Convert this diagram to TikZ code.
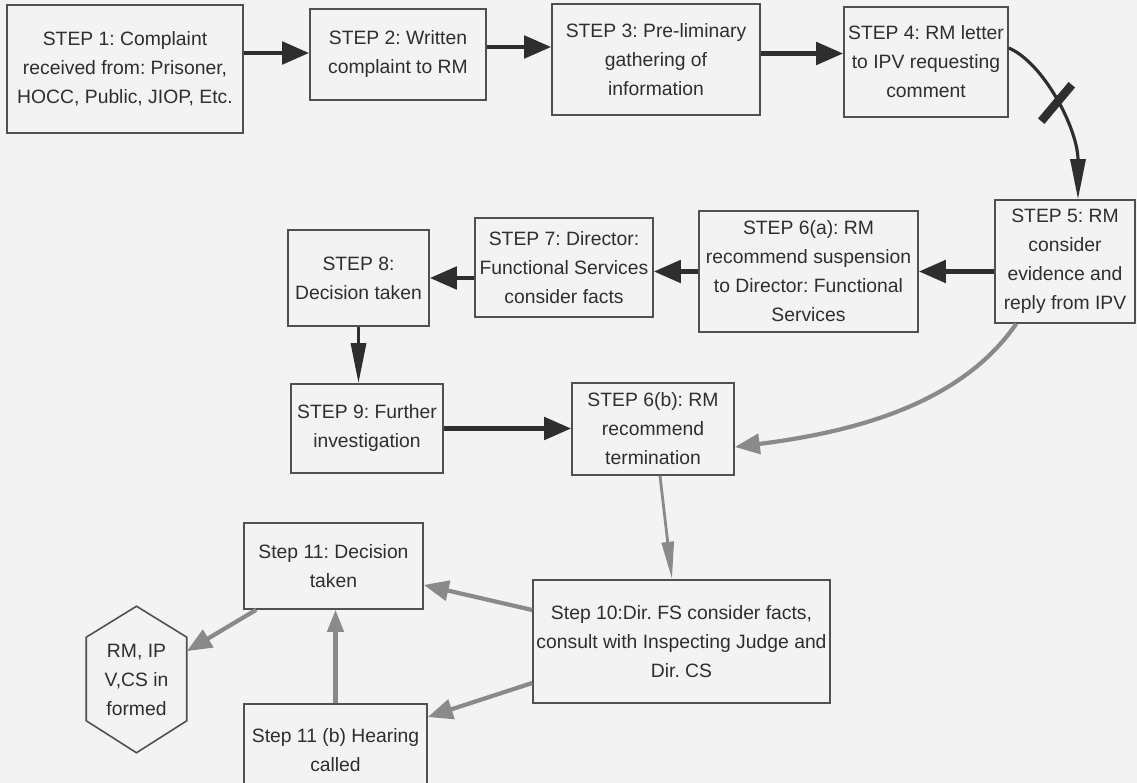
\documentclass[tikz,border=0pt]{standalone}
\usepackage{fontspec}
\setmainfont{Liberation Sans}
\usetikzlibrary{arrows.meta}
\definecolor{inkdark}{HTML}{2E2E2E}
\definecolor{inkgray}{HTML}{8A8A8A}
\definecolor{boxgray}{HTML}{505050}
\definecolor{paper}{HTML}{F3F3F3}
\frenchspacing

\begin{document}
\begin{tikzpicture}[x=0.02cm, y=-0.02cm,
    stepbox/.style={draw=boxgray, line width=0.9pt, text=inkdark, align=center,
      inner sep=0pt, font=\fontsize{11}{16.5}\selectfont},
    darrow/.style={draw=inkdark, line width=2.8pt, -{Triangle[length=5.4mm,width=4.4mm]}},
    tarrow/.style={draw=inkdark, line width=1.8pt, -{Triangle[length=8mm,width=3mm]}},
    garrow/.style={draw=inkgray, line width=2.4pt, -{Triangle[length=5mm,width=4mm]}},
    gtarrow/.style={draw=inkgray, line width=1.6pt, -{Triangle[length=7.5mm,width=2.4mm]}},
    crossbar/.style={fill=inkdark, inner sep=0pt, minimum width=0.95cm, minimum height=0.17cm, rotate=50}]
    \useasboundingbox (0,0) rectangle (1137,783);
    \clip (0,0) rectangle (1137,783);
    \fill[paper] (0,0) rectangle (1137,783);

    \node[stepbox, minimum width=4.72cm, minimum height=2.56cm] (s1) at (125,69)
      {STEP 1: Complaint\\received from: Prisoner,\\HOCC, Public, JIOP, Etc.};
    \node[stepbox, minimum width=3.52cm, minimum height=1.82cm] (s2) at (398,54.5)
      {STEP 2: Written\\complaint to RM};
    \node[stepbox, minimum width=4.16cm, minimum height=2.22cm] (s3) at (656,59.5)
      {STEP 3: Pre-liminary\\gathering of\\information};
    \node[stepbox, minimum width=3.28cm, minimum height=2.2cm] (s4) at (926,62)
      {STEP 4: RM letter\\to IPV requesting\\comment};
    \node[stepbox, minimum width=2.8cm, minimum height=2.46cm] (s5) at (1065,261.5)
      {STEP 5: RM\\consider\\evidence and\\reply from IPV};
    \node[stepbox, minimum width=4.38cm, minimum height=2.42cm] (s6a) at (808.5,271.5)
      {STEP 6(a): RM\\recommend suspension\\to Director: Functional\\Services};
    \node[stepbox, minimum width=3.56cm, minimum height=1.98cm] (s7) at (564,267.5)
      {STEP 7: Director:\\Functional Services\\consider facts};
    \node[stepbox, minimum width=2.82cm, minimum height=1.92cm] (s8) at (358.5,278)
      {STEP 8:\\Decision taken};
    \node[stepbox, minimum width=3.04cm, minimum height=1.78cm] (s9) at (367,428.5)
      {STEP 9: Further\\investigation};
    \node[stepbox, minimum width=3.24cm, minimum height=1.84cm] (s6b) at (653,429)
      {STEP 6(b): RM\\recommend\\termination};
    \node[stepbox, minimum width=5.94cm, minimum height=2.46cm] (s10) at (681.5,641.5)
      {Step 10:Dir. FS consider facts,\\consult with Inspecting Judge and\\Dir. CS};
    \node[stepbox, minimum width=3.58cm, minimum height=1.72cm] (s11) at (333.5,566)
      {Step 11: Decision\\taken};
    \node[stepbox, minimum width=3.66cm, minimum height=1.84cm] (s11b) at (335.5,750)
      {Step 11 (b) Hearing\\called};
    \node[stepbox, draw=none, minimum width=1.98cm, minimum height=2.9cm] (hex) at (136.5,679.5)
      {RM, IP\\V,CS in\\formed};
    \draw[draw=boxgray, line width=0.9pt] (hex.north) -- ([yshift=-0.62cm]hex.north east)
      -- ([yshift=0.64cm]hex.south east) -- (hex.south) -- ([yshift=0.64cm]hex.south west)
      -- ([yshift=-0.62cm]hex.north west) -- cycle;

    \draw[darrow] ([yshift=0.03cm]s1.east |- s2.west) -- ([yshift=0.03cm]s2.west);
    \draw[darrow] ([yshift=0.15cm]s2.east) -- ([yshift=0.15cm]s2.east -| s3.west);
    \draw[darrow] ([yshift=0.12cm]s3.east) -- ([yshift=0.12cm]s3.east -| s4.west);
    \draw[tarrow] ([yshift=0.28cm]s4.east) .. controls +(35,15) and +(0,-70) .. ([xshift=0.26cm]s5.north)
      node[pos=0.5, crossbar] {};
    \draw[darrow] (s6a.east -| s5.west) -- (s6a.east);
    \draw[darrow] (s6a.west) -- (s6a.west -| s7.east);
    \draw[darrow] (s8.east -| s7.west) -- (s8.east);
    \draw[tarrow] (s8.south) -- (s8.south |- s9.north);
    \draw[darrow] (s9.east) -- (s9.east -| s6b.west);
    \draw[garrow] ([xshift=0.44cm]s5.south west) .. controls +(-55,80) and +(120,-15) .. ([yshift=-0.36cm]s6b.east);
    \draw[gtarrow] ([xshift=0.14cm]s6b.south) -- ([xshift=-0.19cm]s10.north);
    \draw[garrow] ([yshift=0.63cm]s10.west) -- ([yshift=-0.38cm]s11.east);
    \draw[garrow] ([yshift=-0.83cm]s10.west) -- ([yshift=0.66cm]s11b.east);
    \draw[garrow, -{Triangle[length=4.4mm,width=3.2mm]}] (s11b.north) -- (s11b.north |- s11.south);
    \draw[garrow] ([xshift=0.26cm]s11.south west) -- ([yshift=-0.9cm]hex.north east);
\end{tikzpicture}
\end{document}
